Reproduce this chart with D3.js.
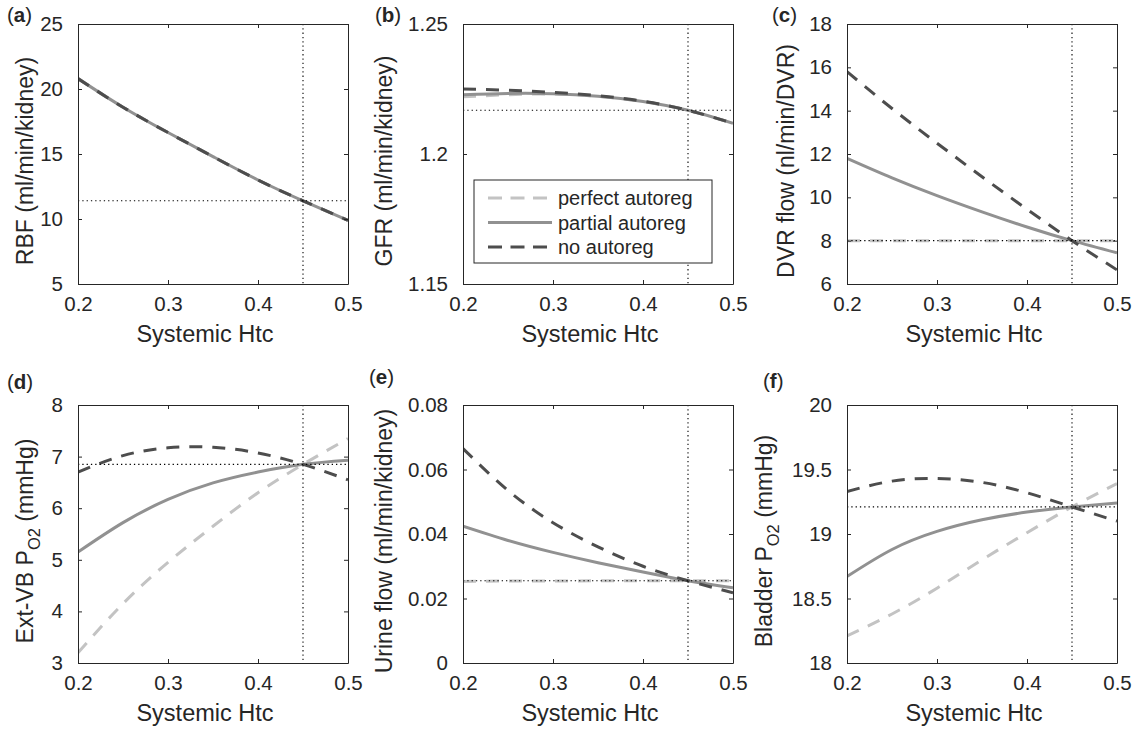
<!DOCTYPE html>
<html lang="en">
<head>
<meta charset="UTF-8">
<title>Systemic Htc panels</title>
<script src="https://d3js.org/d3.v7.min.js"></script>
<style>
  * { margin: 0; padding: 0; }
  body { background: #fff; }
  svg text { font-family: "Liberation Sans", Arial, Helvetica, sans-serif; fill: #262626; }
</style>
</head>
<body>
<div id="chart"></div>
<script>
// x values (systemic hematocrit)
const htc = [0.2, 0.25, 0.3, 0.35, 0.4, 0.45, 0.5];
const xTicks = [0.2, 0.3, 0.4, 0.5];
const baseHtc = 0.45;

// (a) RBF
const rbfPerfect = [20.8, 18.6, 16.65, 14.8, 13.0, 11.4, 9.9];
const rbfPartial = [20.8, 18.6, 16.65, 14.8, 13.0, 11.4, 9.9];
const rbfNone    = [20.8, 18.6, 16.65, 14.8, 13.0, 11.4, 9.9];
// (b) GFR
const gfrPerfect = [1.2220, 1.2228, 1.2231, 1.2222, 1.2202, 1.2168, 1.2118];
const gfrPartial = [1.2228, 1.2233, 1.2232, 1.2222, 1.2202, 1.2168, 1.2118];
const gfrNone    = [1.2250, 1.2245, 1.2237, 1.2224, 1.2203, 1.2168, 1.2118];
// (c) DVR flow
const dvrPerfect = [8, 8, 8, 8, 8, 8, 8];
const dvrPartial = [11.8, 10.9, 10.08, 9.33, 8.63, 8.0, 7.44];
const dvrNone    = [15.8, 14.1, 12.5, 10.95, 9.45, 8.0, 6.65];
// (d) Ext-VB PO2
const vbPerfect = [3.2, 4.15, 4.95, 5.65, 6.3, 6.85, 7.35];
const vbPartial = [5.15, 5.72, 6.17, 6.49, 6.7, 6.85, 6.93];
const vbNone    = [6.7, 7.02, 7.17, 7.18, 7.07, 6.85, 6.55];
// (e) Urine flow
const urinePerfect = [0.0253, 0.0254, 0.0254, 0.0255, 0.0255, 0.0255, 0.0255];
const urinePartial = [0.0424, 0.0380, 0.0343, 0.0311, 0.0282, 0.0255, 0.0233];
const urineNone    = [0.0665, 0.0535, 0.0435, 0.0360, 0.0300, 0.0255, 0.0218];
// (f) Bladder PO2
const bladPerfect = [18.21, 18.38, 18.58, 18.80, 19.01, 19.21, 19.39];
const bladPartial = [18.67, 18.88, 19.02, 19.11, 19.17, 19.21, 19.24];
const bladNone    = [19.33, 19.41, 19.43, 19.40, 19.32, 19.21, 19.10];

const legendLabels = ["perfect autoreg", "partial autoreg", "no autoreg"];

const panels = [
  {tag: "a", label: ["RBF (ml/min/kidney)"], yDomain: [5, 25], yTicks: [5, 10, 15, 20, 25],
   series: [rbfPerfect, rbfPartial, rbfNone], ref: 11.4},
  {tag: "b", label: ["GFR (ml/min/kidney)"], yDomain: [1.15, 1.25], yTicks: [1.15, 1.2, 1.25],
   series: [gfrPerfect, gfrPartial, gfrNone], ref: 1.2168, legend: true},
  {tag: "c", label: ["DVR flow (nl/min/DVR)"], yDomain: [6, 18], yTicks: [6, 8, 10, 12, 14, 16, 18],
   series: [dvrPerfect, dvrPartial, dvrNone], ref: 8.0},
  {tag: "d", label: ["Ext-VB P", "O2", " (mmHg)"], yDomain: [3, 8], yTicks: [3, 4, 5, 6, 7, 8],
   series: [vbPerfect, vbPartial, vbNone], ref: 6.85},
  {tag: "e", label: ["Urine flow (ml/min/kidney)"], yDomain: [0, 0.08], yTicks: [0, 0.02, 0.04, 0.06, 0.08],
   series: [urinePerfect, urinePartial, urineNone], ref: 0.0255},
  {tag: "f", label: ["Bladder P", "O2", " (mmHg)"], yDomain: [18, 20], yTicks: [18, 18.5, 19, 19.5, 20],
   series: [bladPerfect, bladPartial, bladNone], ref: 19.21}
];

// layout
const W = 1141, H = 734;
const colX = [78, 463, 847];
const rowY = [24, 405];
const pw = 270;
const ph = [260, 258];
const yLabelX = [25, 384, 786, 25, 384, 764];
const tagPos = [[7, 22], [375, 22], [772, 22], [7, 389], [369, 384], [763, 388]];

const styles = [
  {color: "#c3c3c3", dash: "13,10"},
  {color: "#919191", dash: null},
  {color: "#4d4d4d", dash: "13,10"}
];

const svg = d3.select("#chart").append("svg")
  .attr("width", W).attr("height", H);

const defs = svg.append("defs");

panels.forEach((p, i) => {
  const col = i % 3, row = Math.floor(i / 3);
  const h = ph[row];
  const g = svg.append("g").attr("transform", `translate(${colX[col]},${rowY[row]})`);

  const x = d3.scaleLinear().domain([0.2, 0.5]).range([0, pw]);
  const y = d3.scaleLinear().domain(p.yDomain).range([h, 0]);

  defs.append("clipPath").attr("id", "clip" + i)
    .append("rect").attr("width", pw).attr("height", h);

  // series
  const line = d3.line()
    .x((d, k) => x(htc[k]))
    .y(d => y(d))
    .curve(d3.curveNatural);

  const lines = g.append("g").attr("clip-path", `url(#clip${i})`);
  p.series.forEach((s, k) => {
    lines.append("path")
      .attr("d", line(s))
      .attr("fill", "none")
      .attr("stroke", styles[k].color)
      .attr("stroke-width", 3)
      .attr("stroke-dasharray", styles[k].dash);
  });

  // reference dotted lines
  g.append("line")
    .attr("x1", x(baseHtc)).attr("x2", x(baseHtc))
    .attr("y1", 0).attr("y2", h)
    .attr("stroke", "#000").attr("stroke-width", 1.1)
    .attr("stroke-dasharray", "1.3,3");
  g.append("line")
    .attr("x1", 0).attr("x2", pw)
    .attr("y1", y(p.ref)).attr("y2", y(p.ref))
    .attr("stroke", "#000").attr("stroke-width", 1.1)
    .attr("stroke-dasharray", "1.3,3");

  // axes (box with inward ticks)
  const axB = d3.axisBottom(x).tickValues(xTicks).tickSizeInner(-4).tickSizeOuter(0).tickPadding(12).tickFormat(d3.format(".1f"));
  const axT = d3.axisTop(x).tickValues(xTicks).tickSizeInner(-4).tickSizeOuter(0).tickFormat("");
  const axL = d3.axisLeft(y).tickValues(p.yTicks).tickSizeInner(-4).tickSizeOuter(0).tickPadding(15).tickFormat(d => d);
  const axR = d3.axisRight(y).tickValues(p.yTicks).tickSizeInner(-4).tickSizeOuter(0).tickFormat("");

  [[axB, `translate(0,${h})`], [axT, null], [axL, null], [axR, `translate(${pw},0)`]].forEach(([ax, tr]) => {
    const a = g.append("g").call(ax);
    if (tr) a.attr("transform", tr);
    a.select(".domain").attr("stroke", "#262626");
    a.selectAll(".tick line").attr("stroke", "#262626");
    a.selectAll(".tick text").attr("font-size", 20.5).attr("fill", "#262626")
      .style("font-family", '"Liberation Sans", Arial, sans-serif');
  });

  // x label
  g.append("text")
    .attr("x", pw / 2 - 8).attr("y", h + 58)
    .attr("text-anchor", "middle")
    .attr("font-size", 23.5)
    .text("Systemic Htc");

  // y label
  const yl = svg.append("text")
    .attr("transform", `translate(${yLabelX[i] + 8},${rowY[row] + h / 2 + 7}) rotate(-90)`)
    .attr("text-anchor", "middle")
    .attr("font-size", 23);
  if (p.label.length === 1) {
    yl.text(p.label[0]);
  } else {
    yl.append("tspan").text(p.label[0]);
    yl.append("tspan").attr("dy", 7).attr("font-size", 16.5).text(p.label[1]);
    yl.append("tspan").attr("dy", -7).text(p.label[2]);
  }

  // panel tag
  const t = svg.append("text")
    .attr("x", tagPos[i][0]).attr("y", tagPos[i][1])
    .attr("font-size", 20.5);
  t.append("tspan").text("(");
  t.append("tspan").attr("font-weight", "bold").text(p.tag);
  t.append("tspan").text(")");

  // legend
  if (p.legend) {
    const lg = g.append("g").attr("transform", "translate(11,156)");
    lg.append("rect").attr("width", 238).attr("height", 83)
      .attr("fill", "#fff").attr("stroke", "#262626").attr("stroke-width", 1);
    legendLabels.forEach((lab, k) => {
      const yy = 18 + k * 24.5;
      lg.append("line")
        .attr("x1", 14).attr("x2", 78).attr("y1", yy).attr("y2", yy)
        .attr("stroke", styles[k].color).attr("stroke-width", 3)
        .attr("stroke-dasharray", styles[k].dash ? "14,8.5" : null);
      lg.append("text")
        .attr("x", 84).attr("y", yy + 7)
        .attr("font-size", 20)
        .text(lab);
    });
  }
});
</script>
</body>
</html>
